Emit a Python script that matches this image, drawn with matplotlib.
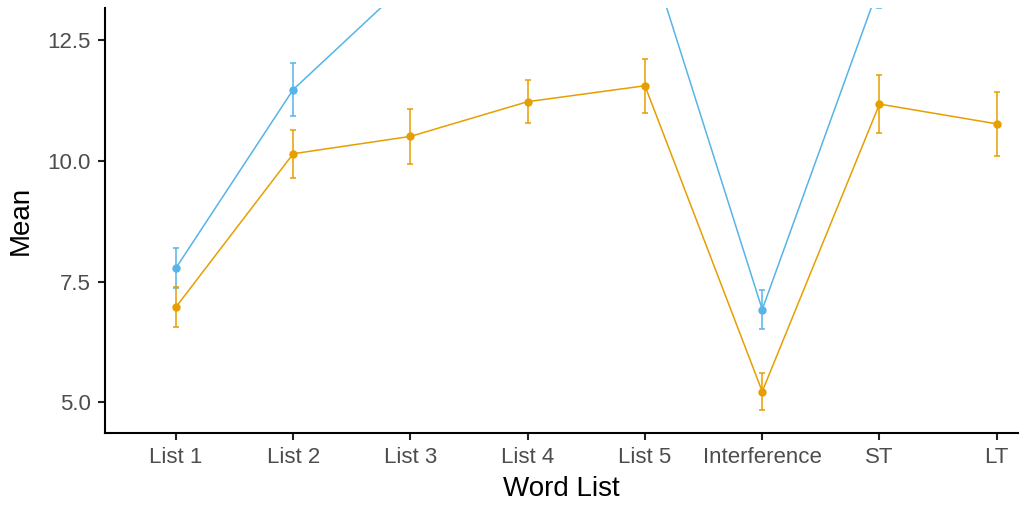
import matplotlib
matplotlib.use("Agg")
import matplotlib.pyplot as plt

plt.rcParams['font.family'] = ['Liberation Sans', 'DejaVu Sans']

lists = ['List 1', 'List 2', 'List 3', 'List 4', 'List 5', 'Interference', 'ST', 'LT']

# blue group (most points run past the top of the panel)
blue_mean = [7.78, 11.48, 13.75, 14.2, 14.6, 6.92, 13.65, 13.8]
blue_se = [0.41, 0.55, 0.5, 0.5, 0.5, 0.41, 0.48, 0.5]

# orange group
orange_mean = [6.97, 10.15, 10.51, 11.23, 11.56, 5.22, 11.18, 10.77]
orange_se = [0.42, 0.50, 0.57, 0.44, 0.56, 0.39, 0.60, 0.67]

fig = plt.figure(figsize=(10.24, 5.07), dpi=100)
ax = fig.add_axes([0.1025, 0.146, 0.8915, 0.838])

x = list(range(1, len(lists) + 1))
for m, s, c in [(blue_mean, blue_se, '#56B4E9'), (orange_mean, orange_se, '#E69F00')]:
    ax.errorbar(x, m, yerr=s, color=c, lw=1.1, marker='o', ms=5,
                capsize=2.5, capthick=1.1, elinewidth=1.1)

ax.set_xlim(0.395, 8.18)
ax.set_ylim(4.36, 13.17)
ax.set_xticks(x)
ax.set_xticklabels(lists)
ax.set_yticks([5.0, 7.5, 10.0, 12.5])
ax.set_yticklabels(['5.0', '7.5', '10.0', '12.5'])

for side in ['top', 'right']:
    ax.spines[side].set_visible(False)
for side in ['left', 'bottom']:
    ax.spines[side].set_linewidth(1.5)
ax.tick_params(labelsize=16, labelcolor='#4d4d4d', color='#222222',
               width=1.5, length=5, pad=5)

ax.set_xlabel('Word List', fontsize=20, labelpad=6)
ax.set_ylabel('Mean', fontsize=20, labelpad=10)

fig.savefig('out.png', dpi=100)
